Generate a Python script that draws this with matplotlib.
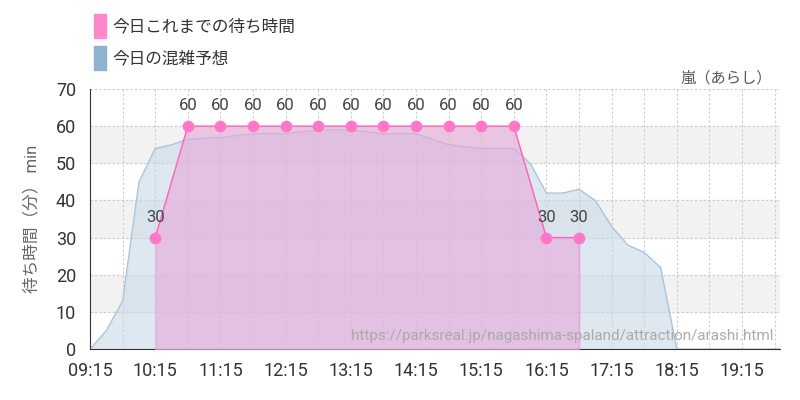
import matplotlib
matplotlib.use("Agg")
import matplotlib.pyplot as plt
from matplotlib.patches import Rectangle

plt.rcParams['font.family'] = ['Roboto', 'Noto Sans CJK JP', 'DejaVu Sans']

def h(t):
    a, b = t.split(':'); return int(a) + int(b) / 60

actual_times = ["10:15","10:45","11:15","11:45","12:15","12:45","13:15","13:45","14:15","14:45","15:15","15:45","16:15","16:45"]
actual_vals = [30,60,60,60,60,60,60,60,60,60,60,60,30,30]

fc_times = ["09:15","09:30","09:45","10:00","10:15","10:30","10:45","11:15","11:45","12:15","12:45","13:15","13:45","14:15","14:45","15:15","15:45","16:00","16:15","16:30","16:45","17:00","17:15","17:30","17:45","18:00","18:15","18:30","19:15","19:50"]
fc_vals = [0,5,13,45,54,55,56.5,57,58,58,59,59,58,58,55,54,54,50,42,42,43,40,33,28,26,22,0,0,0,0]

xticks = ["09:15","10:15","11:15","12:15","13:15","14:15","15:15","16:15","17:15","18:15","19:15"]

fig = plt.figure(figsize=(8, 4), dpi=100)
ax = fig.add_axes([0.1125, 0.1275, 0.8625, 0.65])
x0, x1 = h("09:15"), h("19:50")
ax.set_xlim(x0, x1); ax.set_ylim(0, 70)
for lo in (10, 30, 50):
    ax.axhspan(lo, lo + 10, color='#f2f2f2', zorder=0)
for y in range(10, 71, 10):
    ax.axhline(y, color='#cccccc', lw=0.8, ls=(0, (2, 2)), zorder=1)
t = h("09:45")
while t < x1:
    ax.axvline(t, color='#cccccc', lw=0.8, ls=(0, (2, 2)), zorder=1)
    t += 0.5

fx = [h(s) for s in fc_times]
ax.fill_between(fx, fc_vals, color='#c8d9e8', alpha=0.6, zorder=2)
ax.plot(fx, fc_vals, color='#a8c0d8', lw=0.8, zorder=2)

axx = [h(s) for s in actual_times]
ax.fill_between(axx, actual_vals, color='#e6a8d8', alpha=0.6, zorder=3)
ax.plot(axx, actual_vals, color='#ff66bb', lw=1, zorder=4)
ax.plot([axx[-1], axx[-1]], [actual_vals[-1], 0], color='#e6a8d8', lw=1, zorder=3)
ax.scatter(axx, actual_vals, s=55, color='#ff77c8', zorder=5)
for xv, yv in zip(axx, actual_vals):
    ax.text(xv, yv + 3.5, str(yv), ha='center', va='bottom', fontsize=12, color='#444444', zorder=6)

ax.set_xticks([h(s) for s in xticks]); ax.set_xticklabels(xticks)
ax.set_yticks(range(0, 71, 10))
ax.tick_params(labelsize=13, colors='#333333', length=0)
ax.tick_params(axis='x', pad=9)
ax.tick_params(axis='y', pad=10)
for s in ['top', 'right']:
    ax.spines[s].set_visible(False)
ax.spines['left'].set_color('#333333'); ax.spines['bottom'].set_color('#333333')
ax.set_ylabel('待ち時間（分） min', fontsize=12, color='#666666', labelpad=12)
ax.text(x1 - 0.1, 1.5, 'https://parksreal.jp/nagashima-spaland/attraction/arashi.html', ha='right', va='bottom', fontsize=11, color='#aaaaaa', zorder=7)
fig.text(0.965, 0.805, '嵐（あらし）', ha='right', va='center', fontsize=11, color='#555555')

fig.patches.append(Rectangle((0.118, 0.905), 0.015, 0.06, transform=fig.transFigure, color='#ff88cc'))
fig.patches.append(Rectangle((0.118, 0.825), 0.015, 0.06, transform=fig.transFigure, color='#8fb2d0'))
fig.text(0.14, 0.935, '今日これまでの待ち時間', va='center', fontsize=12, color='#333333')
fig.text(0.14, 0.855, '今日の混雑予想', va='center', fontsize=12, color='#333333')
fig.savefig('out.png')
